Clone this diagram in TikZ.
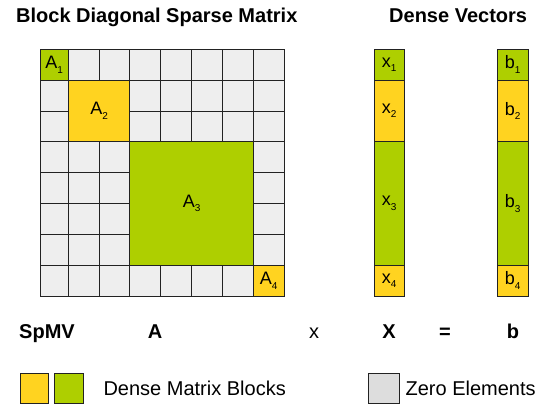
\documentclass[tikz,border=0pt]{standalone}
\usepackage{fontspec}
\setmainfont{Liberation Sans}
\usetikzlibrary{positioning}

\definecolor{blockyellow}{HTML}{FFD320}
\definecolor{blockgreen}{HTML}{AECF00}
\definecolor{zerogrey}{HTML}{EEEEEE}
\definecolor{legendgrey}{HTML}{DDDDDD}
\definecolor{edgegrey}{HTML}{222222}

% letter with a lowered small index
\newcommand{\blk}[2]{#1\raisebox{-4.5pt}{\fontsize{10}{10}\selectfont #2}}

\begin{document}
\begin{tikzpicture}[
  x=1pt, y=-1pt,
  cell/.style={draw=edgegrey, fill=zerogrey, line width=0.9pt},
  yblock/.style={draw=edgegrey, fill=blockyellow, line width=0.9pt},
  gblock/.style={draw=edgegrey, fill=blockgreen, line width=0.9pt},
  lab/.style={font=\fontsize{18}{18}\selectfont, inner sep=0pt},
  heading/.style={font=\fontsize{20}{24}\selectfont\bfseries, anchor=base west, inner sep=0pt},
  eqn/.style={font=\fontsize{20}{24}\selectfont, anchor=base, inner sep=0pt},
  legbox/.style={draw=edgegrey, line width=0.9pt, minimum height=30pt, inner sep=0pt},
  legtext/.style={font=\fontsize{20}{24}\selectfont, inner sep=0pt}
]
\useasboundingbox (0,0) rectangle (544,404);

% ---------------------------------------------------------------------------
% Headings
% ---------------------------------------------------------------------------
\node[heading] (matrixtitle) at (16,23) {Block Diagonal Sparse Matrix};
\node[heading] (vectortitle) at (389,23) {Dense Vectors};

% ---------------------------------------------------------------------------
% Sparse matrix: zero elements, then the dense diagonal blocks
% ---------------------------------------------------------------------------
\foreach \r in {0,...,7}
  \foreach \c in {0,...,7}{
    \pgfmathsetmacro{\xa}{\c==0 ? 40 : 37.49+30.81*\c}
    \pgfmathsetmacro{\xb}{37.49+30.81*(\c+1)}
    \pgfmathsetmacro{\ya}{49.3+30.84*\r}
    \pgfmathsetmacro{\yb}{\ya+30.84}
    \draw[cell] (\xa,\ya) rectangle (\xb,\yb);
  }

\draw[gblock] (40,49.3) rectangle (68.3,80.14);
\draw[yblock] (68.3,80.14) rectangle (129.92,141.82);
\draw[gblock] (129.92,141.82) rectangle (253.16,265.18);
\draw[yblock] (253.16,265.18) rectangle (283.97,296.02);

\node[lab] (a1) at (54.15,64.72) {\blk{A}{1}};
\node[lab] (a2) at (99.11,110.98) {\blk{A}{2}};
\node[lab] (a3) at (191.54,203.5) {\blk{A}{3}};
\node[lab] (a4) at (268.57,280.6) {\blk{A}{4}};

% ---------------------------------------------------------------------------
% Dense vectors x and b, split like the blocks
% ---------------------------------------------------------------------------
\foreach \v/\xl/\xr in {x/374/404.5, b/497.5/528}{
  \foreach \k/\ya/\yb/\sty in {1/49.3/80.14/gblock, 2/80.14/141.82/yblock,
                               3/141.82/265.18/gblock, 4/265.18/296.02/yblock}{
    \draw[\sty] (\xl,\ya) rectangle (\xr,\yb);
    \node[lab] (\v\k) at ({(\xl+\xr)/2},{(\ya+\yb)/2}) {\blk{\v}{\k}};
  }
}

% ---------------------------------------------------------------------------
% Product line
% ---------------------------------------------------------------------------
\node[eqn, font=\fontsize{20}{24}\selectfont\bfseries] (spmv) at (47,338) {SpMV};
\node[eqn, font=\fontsize{20}{24}\selectfont\bfseries] (opA) at (155,338) {A};
\node[eqn] (times) at (314,338) {x};
\node[eqn, font=\fontsize{20}{24}\selectfont\bfseries] (opX) at (389,338) {X};
\node[eqn, font=\fontsize{20}{24}\selectfont\bfseries] (equals) at (445,338) {=};
\node[eqn, font=\fontsize{20}{24}\selectfont\bfseries] (opb) at (513,338) {b};

% ---------------------------------------------------------------------------
% Legend
% ---------------------------------------------------------------------------
\node[legbox, fill=blockyellow, minimum width=28pt] (legY) at (34,388) {};
\node[legbox, fill=blockgreen, minimum width=29pt, right=6pt of legY] (legG) {};
\node[legtext, right=19pt of legG] (legDense) {Dense Matrix Blocks};
\node[legbox, fill=legendgrey, minimum width=31pt] (legZ) at (383.5,388) {};
\node[legtext, right=6pt of legZ] (legZero) {Zero Elements};

\end{tikzpicture}
\end{document}
